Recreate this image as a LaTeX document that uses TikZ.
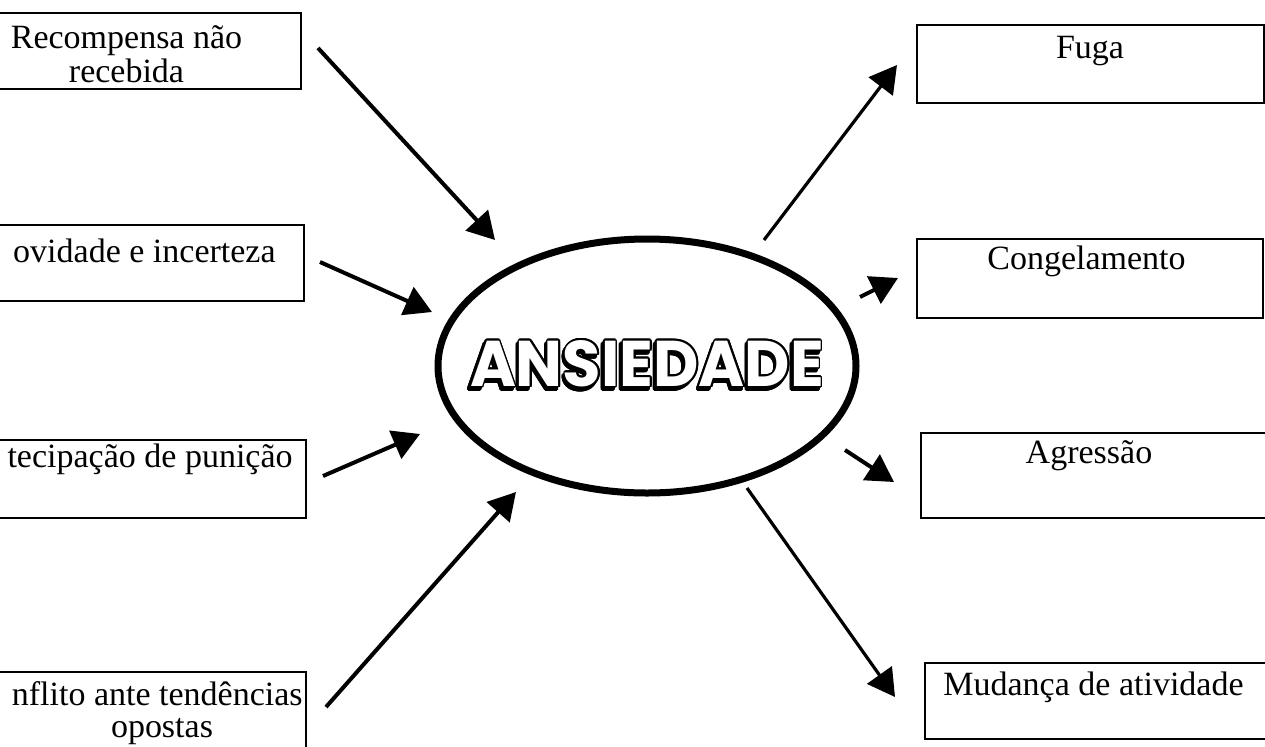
\documentclass[tikz,border=0pt]{standalone}
\usepackage{fontspec}
\setmainfont{Liberation Serif}
\newfontfamily\ansfont{Poppins}
\usepackage{contour}
\usetikzlibrary{arrows.meta,shapes.geometric}
\contourlength{0.9pt}
\newcommand\answord{ANSIEDADE}
\newcommand\outlinedword{\rlap{\raisebox{-1.6pt}{\kern-1.2pt\contour{black}{\answord}}}\contour{black}{\textcolor{white}{\answord}}}
\begin{document}
\begin{tikzpicture}[x=0.5pt,y=-0.5pt,
  box/.style={draw, line width=0.75pt, inner sep=0pt, anchor=north west},
  lbl/.style={font=\fontsize{17pt}{17pt}\selectfont, inner sep=0pt},
  arr/.style={line width=2pt, -{Triangle[length=13.5pt,width=15pt]}},
  arrthin/.style={line width=1.6pt, -{Triangle[length=13.5pt,width=15pt]}},
]
\useasboundingbox (0,0) rectangle (1265,746);
\clip (0,0) rectangle (1265,746);
\fill[white] (0,0) rectangle (1265,746);
% left boxes
\node[box, minimum width=190pt, minimum height=38pt] (b1) at (-80,12) {};
\node[box, minimum width=191.5pt, minimum height=38pt] (b2) at (-80,224) {};
\node[box, minimum width=192.5pt, minimum height=39pt] (b3) at (-80,439) {};
\node[box, minimum width=192.5pt, minimum height=50pt] (b4) at (-80,671) {};
% right boxes
\node[box, minimum width=173.5pt, minimum height=39pt] (r1) at (916,24) {};
\node[box, minimum width=173pt, minimum height=39.5pt] (r2) at (916,238) {};
\node[box, minimum width=200pt, minimum height=42.5pt] (r3) at (920,432) {};
\node[box, minimum width=200pt, minimum height=38pt] (r4) at (924,662) {};
% labels
\node[lbl, anchor=base] (t1a) at (126.5,48) {Recompensa não};
\node[lbl, anchor=base] (t1b) at (126.5,82) {recebida};
\node[lbl, anchor=base east] (t2) at (276,262) {ovidade e incerteza};
\node[lbl, anchor=base east] (t3) at (293,467) {tecipação de punição};
\node[lbl, anchor=base east] (t4a) at (303,705) {nflito ante tendências};
\node[lbl, anchor=base] (t4b) at (162,737) {opostas};
\node[lbl, anchor=base] (u1) at (1090,58) {Fuga};
\node[lbl, anchor=base] (u2) at (1086.5,269) {Congelamento};
\node[lbl, anchor=base] (u3) at (1089,463) {Agressão};
\node[lbl, anchor=base] (u4) at (1093.5,695) {Mudança de atividade};
% central ellipse
\node[ellipse, draw, line width=3.5pt, minimum width=209pt, minimum height=127pt, inner sep=0pt] (ans) at (647,366) {};
\node[inner sep=0pt] (anstext) at (647,366) {\resizebox{177pt}{23pt}{\ansfont\bfseries\fontsize{34pt}{34pt}\selectfont\outlinedword}};
% arrow end points
\coordinate (s1) at (318,48);  \coordinate (e1) at (495,240);
\coordinate (s2) at (320,262); \coordinate (e2) at (432,312);
\coordinate (s3) at (323,476); \coordinate (e3) at (420,434);
\coordinate (s4) at (326,707); \coordinate (e4) at (516,492);
\coordinate (o1s) at (764,240); \coordinate (o1e) at (897,65);
\coordinate (o2s) at (860,297); \coordinate (o2e) at (898,278);
\coordinate (o3s) at (845,450); \coordinate (o3e) at (894,482);
\coordinate (o4s) at (747,488); \coordinate (o4e) at (895,697);
\draw[arr] (s1) -- (e1);
\draw[arr] (s2) -- (e2);
\draw[arr] (s3) -- (e3);
\draw[arr] (s4) -- (e4);
\draw[arrthin] (o1s) -- (o1e);
\draw[arr] (o2s) -- (o2e);
\draw[arr] (o3s) -- (o3e);
\draw[arrthin] (o4s) -- (o4e);
\end{tikzpicture}
\end{document}
